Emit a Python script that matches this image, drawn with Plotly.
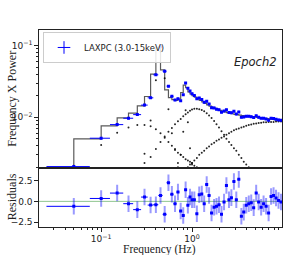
import numpy as np
import plotly.graph_objects as go

# ---------------- data ----------------
freq = [0.05, 0.10, 0.15, 0.20, 0.25, 0.30, 0.35, 0.40, 0.45, 0.50,
        0.55, 0.60, 0.65, 0.70, 0.75, 0.80, 0.85, 0.90, 0.95, 1.00,
        1.06, 1.13, 1.20, 1.28, 1.36, 1.45, 1.54, 1.64, 1.75, 1.86,
        1.98, 2.11, 2.25, 2.39, 2.55, 2.71, 2.89, 3.07, 3.27, 3.49,
        3.71, 3.95, 4.21, 4.48, 4.77, 5.08, 5.41, 5.76, 6.13, 6.53,
        6.96, 7.41, 7.89, 8.40, 8.95, 9.53]

power = [0.00205, 0.0051, 0.0079, 0.0097, 0.0109, 0.0148, 0.0187, 0.0392, 0.0968, 0.0440,
         0.0272, 0.0196, 0.0174, 0.0181, 0.0170, 0.0206, 0.0300, 0.0254, 0.0232, 0.0214,
         0.0202, 0.0181, 0.0186, 0.0177, 0.0162, 0.0167, 0.0153, 0.0136, 0.0135, 0.0130,
         0.0127, 0.0118, 0.0122, 0.0127, 0.0117, 0.0116, 0.0121, 0.0111, 0.0119, 0.0100,
         0.0101, 0.0103, 0.0103, 0.0102, 0.0099, 0.0105, 0.0100, 0.0097, 0.0097, 0.0095,
         0.0091, 0.0097, 0.0096, 0.0094, 0.0092, 0.0091]

model = [0.0021, 0.0050, 0.0076, 0.0098, 0.0114, 0.0144, 0.0195, 0.0400, 0.0940, 0.0458,
         0.0241, 0.0188, 0.0176, 0.0172, 0.0180, 0.0222, 0.0282, 0.0260, 0.0226, 0.0212,
         0.0200, 0.0191, 0.0181, 0.0172, 0.0164, 0.0156, 0.0149, 0.0143, 0.0138, 0.0133,
         0.0129, 0.0125, 0.0122, 0.0119, 0.0116, 0.0114, 0.0112, 0.0110, 0.0109, 0.0107,
         0.0106, 0.0105, 0.0104, 0.0103, 0.0102, 0.0101, 0.0100, 0.0099, 0.0098, 0.0097,
         0.0096, 0.0095, 0.0094, 0.0093, 0.0092, 0.0091]

residuals = [-0.6, 0.35, 1.0, -0.28, -1.0, 0.52, -0.45, -0.4, 0.72, -1.57,
             2.26, 0.85, -0.28, 1.12, -1.17, -1.7, 1.4, -0.48, 0.52, 0.2,
             0.2, -1.5, 0.8, 0.9, -0.3, 2.05, 0.72, -1.4, -0.7, -0.6,
             -0.4, -1.57, -0.08, 1.93, 0.2, 0.45, 2.4, 0.2, 2.66, -1.8,
             -1.3, -0.48, -0.3, -0.16, -0.76, 1.0, -0.08, -0.7, -0.28, -0.6,
             -1.4, 0.6, 0.72, 0.4, 0.1, -0.08]

# model components (evaluated at the data frequencies; None = below the plot)
comp_low = ([0.0021, 0.0041, 0.0061, 0.0072, 0.0078, 0.0078, 0.0075, 0.0068, 0.0060, 0.0052,
             0.0045, 0.0040, 0.0036, 0.0032, 0.0030, 0.0028, 0.0026, 0.0025, 0.0024, 0.0023,
             0.0021, 0.0020] + [None] * 34)
comp_qpo = ([None] * 4 +
            [0.0018, 0.0031, 0.0090, 0.0330, 0.0830, 0.0350, 0.0130, 0.0060, 0.0035, 0.0023] +
            [None] * 42)
comp_harm = ([None] * 13 +
             [0.0020, 0.0030, 0.0063, 0.0125, 0.0085, 0.0037, 0.0022] +
             [None] * 36)
comp_mid = ([None] * 5 +
            [0.0023, 0.0028, 0.0036, 0.0045, 0.0054, 0.0063, 0.0071, 0.0080, 0.0088, 0.0095,
             0.0103, 0.0110, 0.0117, 0.0123, 0.0128,
             0.0132, 0.0132, 0.0130, 0.0126, 0.0121, 0.0114, 0.0106, 0.0098, 0.0089, 0.0080,
             0.0072, 0.0064, 0.0057, 0.0050, 0.0045, 0.0041, 0.0037, 0.0034, 0.0030, 0.0027,
             0.0024, 0.0022, 0.0020] +
            [None] * 13)
comp_high = ([None] * 17 +
             [0.0020, 0.0022, 0.0023,
              0.0025, 0.0027, 0.0030, 0.0032, 0.0034, 0.0037, 0.0039, 0.0042, 0.0044, 0.0047,
              0.0049, 0.0052, 0.0054, 0.0057, 0.0060, 0.0063, 0.0066, 0.0068, 0.0070, 0.0072,
              0.0074, 0.0076, 0.0078, 0.0079, 0.0081, 0.0082, 0.0083, 0.0084, 0.0085, 0.0085,
              0.0086, 0.0086, 0.0086, 0.0087, 0.0087, 0.0087])

legend_label = "LAXPC (3.0-15keV)"
epoch_label = "Epoch2"

# ---------------- derived bin half-widths ----------------
f = np.array(freq)
edges = np.concatenate([[f[0] - (f[1] - f[0]) / 2], (f[1:] + f[:-1]) / 2,
                        [f[-1] + (f[-1] - f[-2]) / 2]])
xerr_minus = (f - edges[:-1]).tolist()
xerr_plus = (edges[1:] - f).tolist()

BLUE = "#0000ff"
DARK = "#222222"
SANS = "DejaVu Sans"
SERIF = "Liberation Serif"

fig = go.Figure()

# total model (step line)
fig.add_trace(go.Scatter(x=freq, y=model, mode="lines", line=dict(color="#5a5a5a", width=1.2, shape="vh"),
                         showlegend=False, xaxis="x", yaxis="y", hoverinfo="skip"))

# components as small dots
for comp in (comp_low, comp_qpo, comp_harm, comp_mid, comp_high):
    fig.add_trace(go.Scatter(x=freq, y=comp, mode="markers",
                             marker=dict(size=2, color="rgba(0,0,0,0.85)"),
                             showlegend=False, xaxis="x", yaxis="y", hoverinfo="skip"))

# data
fig.add_trace(go.Scatter(x=freq, y=power, mode="markers",
                         marker=dict(symbol="square", size=3, color=BLUE),
                         error_x=dict(type="data", symmetric=False, array=xerr_plus, arrayminus=xerr_minus,
                                      color=BLUE, thickness=1, width=0),
                         error_y=dict(type="percent", value=3.5, color=BLUE, thickness=1, width=0),
                         showlegend=False, xaxis="x", yaxis="y"))

# legend entry
fig.add_trace(go.Scatter(x=[None], y=[None], mode="markers", name=legend_label,
                         marker=dict(symbol="cross-thin", size=9, color=BLUE, line=dict(width=1, color=BLUE)),
                         xaxis="x", yaxis="y"))

# residuals
fig.add_trace(go.Scatter(x=freq, y=residuals, mode="markers",
                         marker=dict(symbol="square", size=3, color=BLUE),
                         error_x=dict(type="data", symmetric=False, array=xerr_plus, arrayminus=xerr_minus,
                                      color=BLUE, thickness=1, width=0),
                         error_y=dict(type="constant", value=1.0, color="rgba(0,0,255,0.4)", thickness=2, width=0),
                         showlegend=False, xaxis="x2", yaxis="y2"))

x_minor = [v * d for d in (0.01, 0.1, 1.0) for v in range(2, 10)]
y_minor = [v * d for d in (0.001, 0.01) for v in range(2, 10)]

axis_common = dict(showline=True, linecolor=DARK, linewidth=1.3, mirror=True, showgrid=False,
                   zeroline=False, tickfont=dict(family=SANS, size=9, color=DARK),
                   ticklen=3.5, tickwidth=1, tickcolor=DARK, automargin=False)

fig.update_layout(
    width=293, height=255,
    margin=dict(l=39, r=11, t=30, b=28),
    paper_bgcolor="white", plot_bgcolor="white",
    xaxis=dict(type="log", range=[-1.684, 0.99], domain=[0, 1], anchor="y", matches="x2",
               showticklabels=False, ticks="", **axis_common),
    yaxis=dict(type="log", range=[-2.704, -0.781], domain=[0.301, 1], anchor="x", ticks="outside",
               tickmode="array", tickvals=[0.01, 0.1], ticktext=["10<sup>−2</sup>", "10<sup>−1</sup>"],
               minor=dict(tickmode="array", tickvals=y_minor, ticks="outside", ticklen=2,
                          tickcolor=DARK, showgrid=False),
               **axis_common),
    xaxis2=dict(type="log", range=[-1.684, 0.99], domain=[0, 1], anchor="y2", ticks="outside",
                tickmode="array", tickvals=[0.1, 1.0], ticktext=["10<sup>−1</sup>", "10<sup>0</sup>"],
                minor=dict(tickmode="array", tickvals=x_minor, ticks="outside", ticklen=2,
                           tickcolor=DARK, showgrid=False),
                **axis_common),
    yaxis2=dict(range=[-3.1, 4.07], domain=[0, 0.301], anchor="x2", ticks="outside",
                tickmode="array", tickvals=[-2.5, 0, 2.5], ticktext=["−2.5", "0.0", "2.5"],
                **axis_common),
    legend=dict(x=0.0165, y=0.99, xanchor="left", yanchor="top",
                bgcolor="rgba(255,255,255,0.85)", bordercolor="#cccccc", borderwidth=1,
                font=dict(family=SANS, size=8.5, color=DARK),
                itemwidth=30, tracegroupgap=0),
    shapes=[dict(type="line", xref="x2 domain", yref="y2", x0=0, x1=1, y0=0, y1=0,
                 line=dict(color="#8fc68f", width=1), layer="below")],
    annotations=[
        dict(text="Frequency X Power", xref="paper", yref="paper", x=-0.111, y=0.651,
             textangle=-90, showarrow=False, font=dict(family=SERIF, size=12, color=DARK),
             xanchor="center", yanchor="middle"),
        dict(text="Residuals", xref="paper", yref="paper", x=-0.111, y=0.151,
             textangle=-90, showarrow=False, font=dict(family=SERIF, size=12, color=DARK),
             xanchor="center", yanchor="middle"),
        dict(text="Frequency (Hz)", xref="paper", yref="paper", x=0.497, y=-0.116,
             showarrow=False, font=dict(family=SERIF, size=11.5, color=DARK),
             xanchor="center", yanchor="middle"),
        dict(text="<i>" + epoch_label + "</i>", xref="paper", yref="paper", x=0.889, y=0.839,
             showarrow=False, font=dict(family=SANS, size=11.5, color=DARK),
             xanchor="center", yanchor="middle"),
    ],
)

fig.write_html("out.html", config={"displayModeBar": False},
               post_script="document.body.style.margin='0px';")
